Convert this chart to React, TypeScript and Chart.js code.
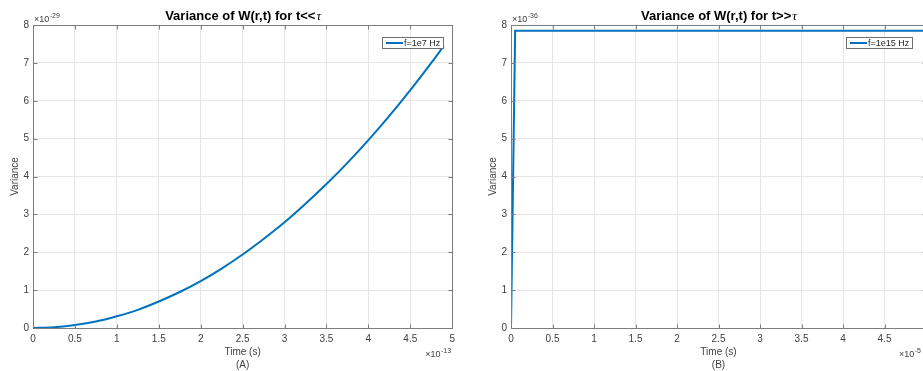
import React, { useEffect, useRef } from "react";
import { Chart, registerables } from "chart.js";

Chart.register(...registerables);

// ---------- data ----------
const X_TICKS = [0, 0.5, 1, 1.5, 2, 2.5, 3, 3.5, 4, 4.5, 5];
const Y_TICKS = [0, 1, 2, 3, 4, 5, 6, 7, 8];

// Panel A (t << tau), time in units of 1e-13 s, variance in units of 1e-29
const timeA = [0, 0.25, 0.5, 0.75, 1, 1.25, 1.5, 1.75, 2, 2.25, 2.5, 2.75, 3, 3.25, 3.5, 3.75, 4, 4.25, 4.5, 4.75, 4.9];
const varA = [0, 0.02, 0.08, 0.17, 0.31, 0.48, 0.7, 0.95, 1.24, 1.57, 1.94, 2.35, 2.79, 3.28, 3.8, 4.36, 4.96, 5.6, 6.28, 7.0, 7.45];

// Panel B (t >> tau), time in units of 1e-5 s, variance in units of 1e-36
const timeB = [0, 0.05, 5];
const varB = [0, 7.85, 7.85];

const labelA = "f=1e7 Hz";
const labelB = "f=1e15 Hz";
const titleA = "Variance of W(r,t) for t<<";
const titleB = "Variance of W(r,t) for t>>";
const TAU = "\u03c4";
const yExpA = "-29";
const xExpA = "-13";
const yExpB = "-36";
const xExpB = "-5";
const captionA = "(A)";
const captionB = "(B)";
const X_TITLE = "Time (s)";
const Y_TITLE = "Variance";

// ---------- styles ----------
const FONT = '"Liberation Sans", Arial, Helvetica, sans-serif';
const LINE_COLOR = "#0072BD";
const FRAME = "#7d7d7d";
const GRID = "#e6e6e6";
const TEXT = "#404040";

type PanelCfg = {
  xs: number[];
  ys: number[];
  label: string;
  title: string;
  yExp: string;
  xExp: string;
  caption: string;
  smooth: boolean;
  padding: { left: number; right: number; top: number; bottom: number };
  legendRight: number;
};

function decor(cfg: PanelCfg) {
  return {
    id: "decor",
    afterDraw(chart: any) {
      const { ctx, chartArea: a } = chart;
      const xs = chart.scales.x;
      const ys = chart.scales.y;
      const al = (v: number) => Math.round(v) + 0.5;
      ctx.save();

      // frame
      ctx.strokeStyle = FRAME;
      ctx.lineWidth = 1;
      ctx.strokeRect(al(a.left), al(a.top), Math.round(a.right) - Math.round(a.left), Math.round(a.bottom) - Math.round(a.top));

      // inward ticks
      ctx.beginPath();
      X_TICKS.forEach((v) => {
        const p = al(xs.getPixelForValue(v));
        ctx.moveTo(p, al(a.bottom));
        ctx.lineTo(p, al(a.bottom) - 4);
        ctx.moveTo(p, al(a.top));
        ctx.lineTo(p, al(a.top) + 4);
      });
      Y_TICKS.forEach((v) => {
        const p = al(ys.getPixelForValue(v));
        ctx.moveTo(al(a.left), p);
        ctx.lineTo(al(a.left) + 4, p);
        ctx.moveTo(al(a.right), p);
        ctx.lineTo(al(a.right) - 4, p);
      });
      ctx.stroke();

      const cx = (a.left + a.right) / 2;

      // title
      ctx.fillStyle = "#000";
      ctx.textBaseline = "alphabetic";
      ctx.textAlign = "left";
      const fMain = `bold 13px ${FONT}`;
      const fTau = `italic 13px "Liberation Serif", serif`;
      ctx.font = fMain;
      const w1 = ctx.measureText(cfg.title).width;
      ctx.font = fTau;
      const w2 = ctx.measureText(TAU).width;
      const tx = cx - (w1 + w2) / 2;
      ctx.font = fMain;
      ctx.fillText(cfg.title, tx, 20);
      ctx.font = fTau;
      ctx.fillText(TAU, tx + w1 + 1, 20);

      // y title
      ctx.save();
      ctx.translate(a.left - 18, (a.top + a.bottom) / 2);
      ctx.rotate(-Math.PI / 2);
      ctx.fillStyle = TEXT;
      ctx.font = `10px ${FONT}`;
      ctx.textAlign = "center";
      ctx.textBaseline = "middle";
      ctx.fillText(Y_TITLE, 0, 0);
      ctx.restore();

      // x title + caption
      ctx.fillStyle = TEXT;
      ctx.font = `10px ${FONT}`;
      ctx.textAlign = "center";
      ctx.textBaseline = "middle";
      ctx.fillText(X_TITLE, cx, 352);
      ctx.fillText(cfg.caption, cx, 365);

      // multipliers
      const drawExp = (exp: string, x: number, base: number) => {
        ctx.textAlign = "left";
        ctx.textBaseline = "alphabetic";
        ctx.fillStyle = TEXT;
        ctx.font = `9px ${FONT}`;
        const m = "\u00d710";
        ctx.fillText(m, x, base);
        const mw = ctx.measureText(m).width;
        ctx.font = `7px ${FONT}`;
        ctx.fillText(exp, x + mw + 0.5, base - 4);
      };
      drawExp(cfg.yExp, a.left + 1, a.top - 3);
      drawExp(cfg.xExp, a.right - 27, 357);

      // legend
      ctx.font = `9px ${FONT}`;
      const tw = ctx.measureText(cfg.label).width;
      const bw = Math.round(4 + 17 + 1 + tw + 3);
      const bh = 11;
      const bx = Math.round(a.right - cfg.legendRight - bw);
      const by = Math.round(a.top + 12);
      ctx.fillStyle = "#fff";
      ctx.fillRect(bx, by, bw, bh);
      ctx.strokeStyle = "#6e6e6e";
      ctx.lineWidth = 1;
      ctx.strokeRect(bx + 0.5, by + 0.5, bw, bh);
      ctx.strokeStyle = LINE_COLOR;
      ctx.lineWidth = 2;
      ctx.beginPath();
      ctx.moveTo(bx + 4, by + bh / 2 + 0.5);
      ctx.lineTo(bx + 21, by + bh / 2 + 0.5);
      ctx.stroke();
      ctx.fillStyle = "#262626";
      ctx.textAlign = "left";
      ctx.textBaseline = "middle";
      ctx.fillText(cfg.label, bx + 22, by + bh / 2 + 1);

      ctx.restore();
    },
  };
}

function Panel({ cfg, left, width }: { cfg: PanelCfg; left: number; width: number }) {
  const ref = useRef<HTMLCanvasElement>(null);
  useEffect(() => {
    const chart = new Chart(ref.current as HTMLCanvasElement, {
      type: "line",
      data: {
        datasets: [
          {
            label: cfg.label,
            data: cfg.xs.map((x, i) => ({ x, y: cfg.ys[i] })),
            borderColor: LINE_COLOR,
            backgroundColor: LINE_COLOR,
            borderWidth: 2,
            pointRadius: 0,
            fill: false,
            cubicInterpolationMode: cfg.smooth ? "monotone" : "default",
          } as any,
        ],
      },
      options: {
        responsive: false,
        animation: false,
        devicePixelRatio: 1,
        layout: { padding: cfg.padding },
        plugins: {
          legend: { display: false },
          tooltip: { enabled: false },
          title: { display: false },
        },
        scales: {
          x: {
            type: "linear",
            min: 0,
            max: 5,
            afterBuildTicks: (s: any) => {
              s.ticks = X_TICKS.map((v) => ({ value: v }));
            },
            afterFit: (s: any) => {
              s.height = 20;
            },
            ticks: {
              color: TEXT,
              font: { size: 10, family: FONT },
              padding: 5,
              maxRotation: 0,
              autoSkip: false,
              callback: (v: any) => String(v),
            },
            grid: { color: GRID, drawTicks: false },
            border: { display: false },
          },
          y: {
            type: "linear",
            min: 0,
            max: 8,
            afterBuildTicks: (s: any) => {
              s.ticks = Y_TICKS.map((v) => ({ value: v }));
            },
            afterFit: (s: any) => {
              s.width = 33;
            },
            ticks: {
              color: TEXT,
              font: { size: 10, family: FONT },
              padding: 4,
              autoSkip: false,
              callback: (v: any) => String(v),
            },
            grid: { color: GRID, drawTicks: false },
            border: { display: false },
          },
        },
      } as any,
      plugins: [decor(cfg) as any],
    });
    return () => chart.destroy();
  }, []);
  return (
    <canvas
      ref={ref}
      width={width}
      height={371}
      style={{ position: "absolute", left, top: 0, width, height: 371, display: "block" }}
    />
  );
}

const cfgA: PanelCfg = {
  xs: timeA,
  ys: varA,
  label: labelA,
  title: titleA,
  yExp: yExpA,
  xExp: xExpA,
  caption: captionA,
  smooth: true,
  padding: { left: 0, right: 5, top: 25, bottom: 23 },
  legendRight: 9,
};

const cfgB: PanelCfg = {
  xs: timeB,
  ys: varB,
  label: labelB,
  title: titleB,
  yExp: yExpB,
  xExp: xExpB,
  caption: captionB,
  smooth: false,
  padding: { left: 18, right: 9, top: 25, bottom: 23 },
  legendRight: 14,
};

export default function App() {
  return (
    <div
      style={{
        position: "absolute",
        left: 0,
        top: 0,
        width: 923,
        height: 371,
        overflow: "hidden",
        background: "#fff",
      }}
    >
      <Panel cfg={cfgA} left={0} width={460} />
      <Panel cfg={cfgB} left={460} width={475} />
    </div>
  );
}
